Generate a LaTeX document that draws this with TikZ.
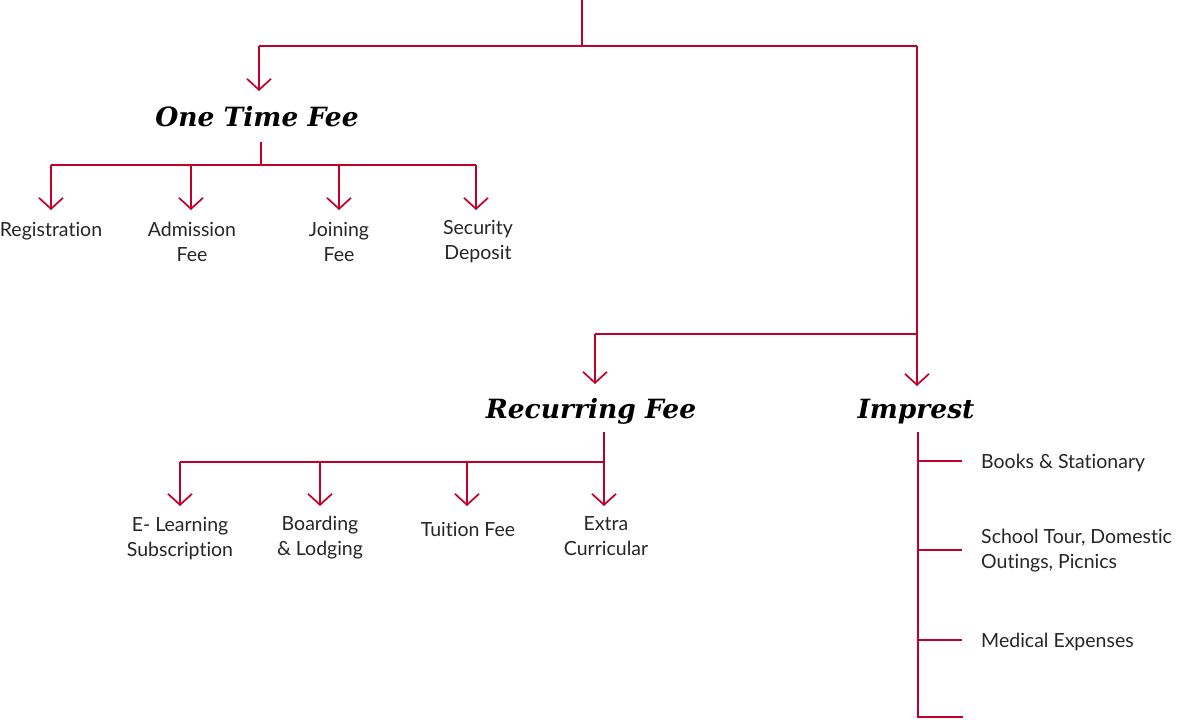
\documentclass[tikz,border=0pt]{standalone}
\usepackage{fontspec}
\setmainfont[Ligatures=NoCommon]{Lato}
\newfontfamily\titlefont{DejaVu Serif}
\usetikzlibrary{arrows.meta}
\definecolor{crim}{RGB}{192,0,42}
\begin{document}
\begin{tikzpicture}[x=1pt,y=-1pt,
  wire/.style={draw=crim,line width=1.7pt},
  arr/.style={wire,-{Straight Barb[length=11pt,width=24pt,line width=1.7pt]}},
  title/.style={font=\titlefont\bfseries\itshape\fontsize{26.5}{32}\selectfont,inner sep=0pt,anchor=base},
  leaf/.style={font=\fontsize{19.5}{25}\selectfont,align=center,inner sep=0pt,text=black!85}]
\useasboundingbox (0,0) rectangle (1186,720);
% titles
\node[title] (otf) at (257,126) {One Time Fee};
\node[title] (rf)  at (591,418) {Recurring Fee};
\node[title] (imp) at (916,418) {Imprest};
% leaves
\node[leaf] (reg) at (51,231) {Registration};
\node[leaf] (adm) at (192,241.5) {Admission\\Fee};
\node[leaf] (join) at (339,241.5) {Joining\\Fee};
\node[leaf] (sec) at (478,241.5) {Security\\Deposit};
\node[leaf] (elr) at (180,538.5) {E- Learning\\Subscription};
\node[leaf] (brd) at (320,537.5) {Boarding\\\& Lodging};
\node[leaf] (tui) at (468,529) {Tuition Fee};
\node[leaf] (ext) at (606,536.5) {Extra\\Curricular};
\node[leaf,anchor=west] (bks) at (981,463) {Books \& Stationary};
\node[leaf,anchor=west,align=left] (tour) at (981,550.5) {School Tour, Domestic\\Outings, Picnics};
\node[leaf,anchor=west] (med) at (981,642) {Medical Expenses};
% junction coordinates
\coordinate (top) at (582,0);
\coordinate (j0) at (582,46);
\coordinate (jL) at (259,46);
\coordinate (jR) at (917,46);
\coordinate (tOTF) at (259,91);
\coordinate (jR2) at (917,334);
\coordinate (jRF) at (595,334);
\coordinate (tRF) at (595,384);
\coordinate (tIMP) at (917,386);
% top level
\draw[wire] (top) -- (j0);
\draw[wire] (jL) -- (jR);
\draw[arr] (jL) -- (tOTF);
\draw[arr] (jR) -- (tIMP);
\draw[wire] (jRF) -- (jR2);
\draw[arr] (jRF) -- (tRF);
% one time fee
\coordinate (s1) at (261,142);
\coordinate (h1) at (261,165);
\coordinate (h1a) at (51,165);
\coordinate (h1b) at (191,165);
\coordinate (h1c) at (339,165);
\coordinate (h1d) at (476,165);
\draw[wire] (s1) -- (h1);
\draw[wire] (h1a) -- (h1d);
\draw[arr] (h1a) -- (51,210);
\draw[arr] (h1b) -- (191,210);
\draw[arr] (h1c) -- (339,210);
\draw[arr] (h1d) -- (476,210);
% recurring fee
\coordinate (s2) at (604,432);
\coordinate (h2a) at (180,462);
\coordinate (h2b) at (320,462);
\coordinate (h2c) at (467,462);
\coordinate (h2d) at (604,462);
\draw[wire] (h2a) -- (h2d);
\draw[arr] (s2) -- (604,506);
\draw[arr] (h2a) -- (180,506);
\draw[arr] (h2b) -- (320,506);
\draw[arr] (h2c) -- (467,506);
% imprest
\coordinate (s3) at (918,432);
\coordinate (b3) at (918,717);
\coordinate (e3) at (963,717);
\draw[wire] (s3) -- (b3) -- (e3);
\draw[wire] (918,461) -- (962,461);
\draw[wire] (918,550) -- (962,550);
\draw[wire] (918,640) -- (962,640);
\end{tikzpicture}
\end{document}
